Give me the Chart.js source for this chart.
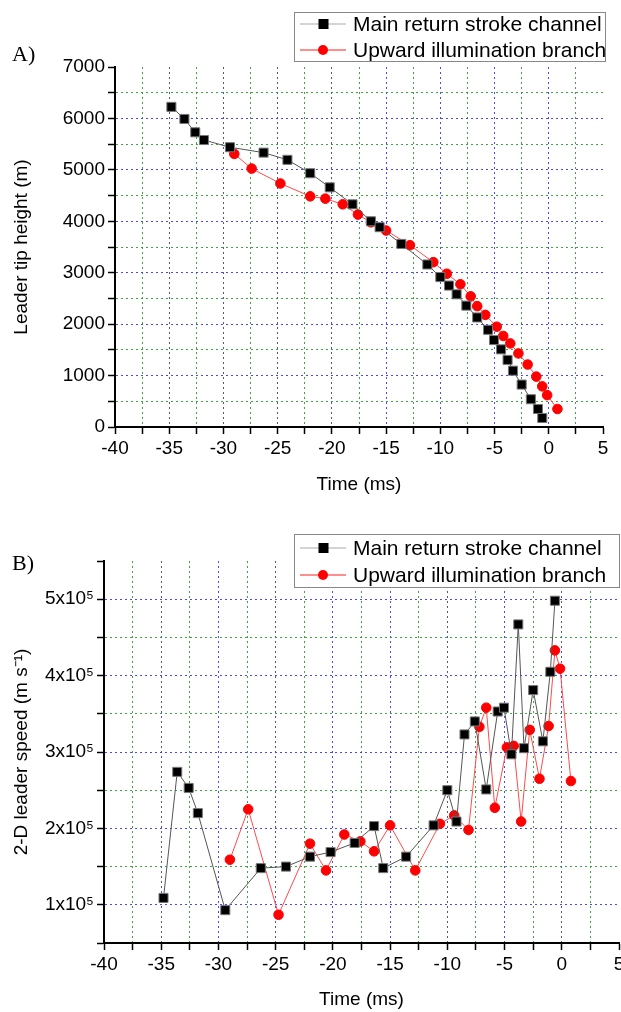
<!DOCTYPE html>
<html>
<head>
<meta charset="utf-8">
<script src="https://cdn.jsdelivr.net/npm/chart.js@4.4.0/dist/chart.umd.min.js"></script>
<style>
  html, body { margin: 0; padding: 0; background: #fff; overflow: hidden; }
  #wrap { position: relative; width: 621px; height: 1012px; overflow: hidden; }
  canvas { position: absolute; left: 0; }
  #chartA { top: 0; }
  #chartB { top: 505px; }
  .panel { position: absolute; left: 12px; font: 22px "Liberation Serif", "Times New Roman", serif; color: #000; }
</style>
</head>
<body>
<div id="wrap">
  <canvas id="chartA" width="621" height="505"></canvas>
  <canvas id="chartB" width="640" height="507"></canvas>
  <div class="panel" style="top:41px">A)</div>
  <div class="panel" style="top:550px">B)</div>
</div>
<script>
// series names
var mainLabel = "Main return stroke channel";
var redLabel = "Upward illumination branch";

// main return stroke channel (ms)
var mainTime = [-34.8, -33.6, -32.6, -31.8, -29.4, -26.3, -24.1, -22.0, -20.2, -18.1,
  -16.4, -15.6, -13.6, -11.2, -10.0, -9.2, -8.5, -7.6, -6.6, -5.6,
  -5.05, -4.4, -3.8, -3.3, -2.5, -1.65, -1.0, -0.6];
var mainHeight = [6225, 5990, 5730, 5580, 5440, 5335, 5195, 4935, 4660, 4330,
  4000, 3885, 3560, 3160, 2915, 2750, 2580, 2360, 2130, 1890,
  1690, 1510, 1305, 1095, 825, 540, 350, 175];
var mainSpeed = [109000, 274000, 253000, 220000, 93000, 148000, 150000, 163000, 169000, 181000,
  203000, 148000, 163000, 204000, 250000, 209000, 323000, 340000, 251000, 353000,
  358000, 297000, 467000, 305000, 381000, 314000, 405000, 498000];

// upward illumination branch (ms)
var redTime = [-29.0, -27.4, -24.75, -22.0, -20.6, -19.0, -17.6, -16.4, -15.0, -12.8,
  -10.65, -9.4, -8.15, -7.2, -6.6, -5.85, -4.8, -4.2, -3.55, -2.8,
  -1.95, -1.15, -0.6, -0.15, 0.8];
var redHeight = [5310, 5025, 4735, 4485, 4440, 4330, 4130, 3980, 3820, 3535,
  3205, 2980, 2775, 2540, 2350, 2180, 1950, 1770, 1625, 1430,
  1215, 980, 790, 620, 350];
var redSpeed = [159000, 225000, 87000, 180000, 145000, 192000, 183000, 170000, 204000, 145000,
  206000, 217000, 198000, 333000, 358000, 227000, 306000, 308000, 209000, 329000,
  265000, 334000, 433000, 409000, 262000];

// axis ranges
var timeMin = -40, timeMax = 5;
var heightMin = 0, heightMax = 7000;
var speedMin = 50000, speedMax = 550000;

Chart.defaults.font.family = "'Liberation Sans', Arial, sans-serif";
Chart.defaults.font.size = 19;
Chart.defaults.color = "#000";

var blueGrid = "rgba(40,40,255,0.85)";
var greenGrid = "rgba(30,150,30,0.85)";

var toPoints = (xs, ys) => xs.map((x, i) => ({ x: x, y: ys[i] }));

var gridColor = (major, max) => ctx => {
  var v = ctx.tick ? ctx.tick.value : 0;
  if (Math.abs(v - max) < 1e-6) return "rgba(0,0,0,0)";
  return Math.abs(v / major - Math.round(v / major)) < 1e-6 ? blueGrid : greenGrid;
};

var isMajor = (v, major) => Math.abs(v / major - Math.round(v / major)) < 1e-6;

// legend with a frame, line-marker-line samples
var boxLegend = {
  id: "boxLegend",
  afterDraw: function(chart, args, opts) {
    var c = chart.ctx;
    c.save();
    c.fillStyle = "#fff";
    c.fillRect(opts.x, opts.y, opts.w, opts.h);
    c.strokeStyle = "#888";
    c.lineWidth = 1;
    c.strokeRect(opts.x + 0.5, opts.y + 0.5, opts.w, opts.h);
    chart.data.datasets.forEach(function(ds, i) {
      var y = opts.y + opts.first + i * opts.gap;
      var x0 = opts.x + 6;
      c.strokeStyle = ds.legendLine;
      c.lineWidth = 1.2;
      c.beginPath();
      c.moveTo(x0, y);
      c.lineTo(x0 + 46, y);
      c.stroke();
      c.fillStyle = ds.pointBackgroundColor;
      if (ds.pointStyle == "rect") {
        c.fillRect(x0 + 18.5, y - 5, 10, 10);
      } else {
        c.beginPath();
        c.arc(x0 + 23, y, 5, 0, Math.PI * 2);
        c.fill();
      }
      c.fillStyle = "#000";
      c.font = opts.fontSize + "px 'Liberation Sans', Arial, sans-serif";
      c.textBaseline = "middle";
      c.fillText(ds.label, x0 + 53, y + 1);
    });
    c.restore();
  }
};

var makeDatasets = (mainY, redY) => [
  {
    label: mainLabel,
    data: toPoints(mainTime, mainY),
    showLine: true,
    borderColor: "#555",
    borderWidth: 1,
    legendLine: "#aaa",
    pointStyle: "rect",
    pointRadius: 6.4,
    pointBackgroundColor: "#000",
    pointBorderColor: "#777",
    pointBorderWidth: 1
  },
  {
    label: redLabel,
    data: toPoints(redTime, redY),
    showLine: true,
    borderColor: "#ff4a4a",
    borderWidth: 1,
    legendLine: "#ff2020",
    pointStyle: "circle",
    pointRadius: 4.8,
    pointBackgroundColor: "#ff0000",
    pointBorderColor: "#ff0000",
    pointBorderWidth: 1
  }
];

var xScale = (height, titlePad) => ({
  type: "linear",
  min: timeMin,
  max: timeMax,
  afterFit: scale => { scale.height = height; },
  ticks: {
    stepSize: 2.5,
    autoSkip: false,
    maxRotation: 0,
    padding: 3,
    callback: v => isMajor(v, 5) ? String(Math.round(v)) : ""
  },
  grid: { color: gridColor(5, timeMax), tickColor: "#000", tickLength: 7, tickWidth: 1.5 },
  border: { color: "#000", width: 2, dash: [2, 3] },
  title: { display: true, text: "Time (ms)", font: { size: 19 }, padding: { top: 0, bottom: titlePad } }
});

var yScale = (width, min, max, major, label, fmt) => ({
  type: "linear",
  min: min,
  max: max,
  afterFit: scale => { scale.width = width; },
  ticks: {
    stepSize: major / 2,
    autoSkip: false,
    padding: 3,
    callback: v => isMajor(v, major) ? fmt(v) : ""
  },
  grid: { color: gridColor(major, max), tickColor: "#000", tickLength: 7, tickWidth: 1.5 },
  border: { color: "#000", width: 2, dash: [2, 3] },
  title: { display: true, text: label, font: { size: 19 }, padding: { top: 10, bottom: 0 } }
});

var commonPlugins = (legend) => ({
  legend: { display: false },
  tooltip: { enabled: false },
  boxLegend: legend
});

new Chart(document.getElementById("chartA"), {
  type: "scatter",
  data: { datasets: makeDatasets(mainHeight, redHeight) },
  options: {
    responsive: false,
    animation: false,
    events: [],
    layout: { padding: { left: 0, right: 18, top: 67, bottom: 0 } },
    scales: {
      x: xScale(78, 9),
      y: yScale(115, heightMin, heightMax, 1000, "Leader tip height (m)", v => String(Math.round(v)))
    },
    plugins: commonPlugins({ x: 294, y: 12, w: 311, h: 49, first: 12, gap: 26, fontSize: 21 })
  },
  plugins: [boxLegend]
});

new Chart(document.getElementById("chartB"), {
  type: "scatter",
  data: { datasets: makeDatasets(mainSpeed, redSpeed) },
  options: {
    responsive: false,
    animation: false,
    events: [],
    layout: { padding: { left: 0, right: 21, top: 56, bottom: 0 } },
    scales: {
      x: xScale(69, 1),
      y: yScale(104, speedMin, speedMax, 100000, "2-D leader speed (m s\u207B\u00B9)", v => Math.round(v / 100000) + "x10\u2075")
    },
    plugins: commonPlugins({ x: 294, y: 29, w: 325, h: 53, first: 14, gap: 27, fontSize: 21 })
  },
  plugins: [boxLegend]
});
</script>
</body>
</html>
